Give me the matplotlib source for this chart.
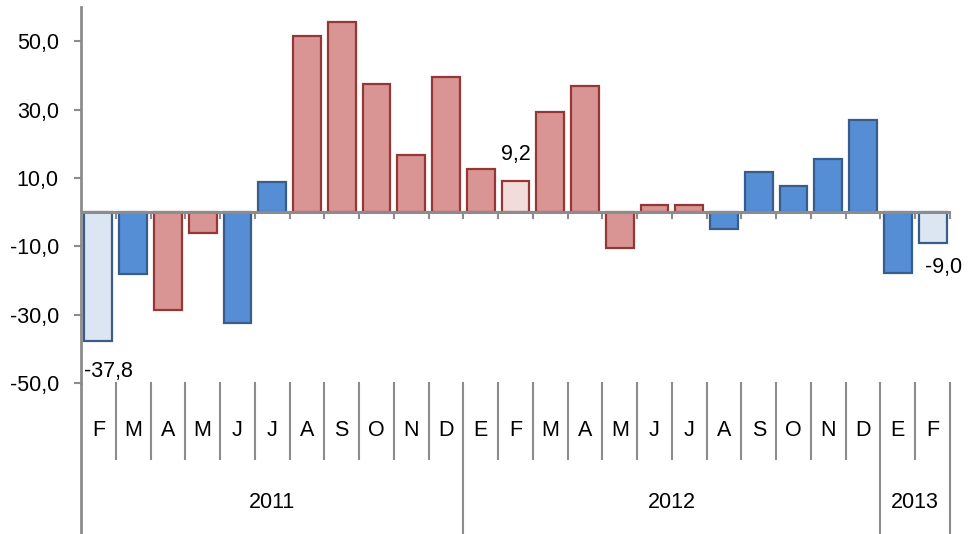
import matplotlib
matplotlib.use("Agg")
import matplotlib.pyplot as plt
from matplotlib.transforms import blended_transform_factory

# ---- data ----
months = ["F", "M", "A", "M", "J", "J", "A", "S", "O", "N", "D",
          "E", "F", "M", "A", "M", "J", "J", "A", "S", "O", "N", "D",
          "E", "F"]
years = ["2011", "2012", "2013"]
year_counts = [11, 12, 2]
values = [-37.8, -18.1, -28.5, -6.2, -32.5, 8.9, 51.4, 55.5, 37.4, 16.7, 39.6,
          12.5, 9.2, 29.2, 36.8, -10.4, 2.0, 2.0, -5.0, 11.7, 7.6, 15.5, 26.9,
          -17.8, -9.0]
groups = ["lb", "b", "r", "r", "b", "b", "r", "r", "r", "r", "r",
          "r", "lr", "r", "r", "r", "r", "r", "b", "b", "b", "b", "b",
          "b", "lb"]
labelled = [0, 12, 24]
yticks = [-50, -30, -10, 10, 30, 50]

# ---- styles ----
fills = {"b": "#558ED5", "lb": "#DCE6F2", "r": "#D99594", "lr": "#F2DCDB"}
edges = {"b": "#385D8A", "lb": "#385D8A", "r": "#953735", "lr": "#953735"}
gray = "#8C8C8C"
font = "Liberation Sans"
plt.rcParams["font.family"] = [font, "DejaVu Sans"]
FS = 15.5

W, H = 968, 534
fig = plt.figure(figsize=(W / 100, H / 100), dpi=100)
L, R, T, B = 81, 950, 7, 383
ax = fig.add_axes([L / W, (H - B) / H, (R - L) / W, (B - T) / H])

n = len(values)
xs = [i + 0.5 for i in range(n)]
ax.bar(xs, values, width=0.8,
       color=[fills[g] for g in groups],
       edgecolor=[edges[g] for g in groups], linewidth=1.6, zorder=2)

ax.set_xlim(0, n)
ax.set_ylim(-50, 60)
ax.set_yticks(yticks)
ax.set_yticklabels([f"{v:.1f}".replace(".", ",") for v in yticks],
                   fontsize=FS)
ax.tick_params(axis="y", direction="out", length=5, width=1.5,
               color=gray, pad=11)
ax.set_xticks([])
for s in ["top", "right", "bottom"]:
    ax.spines[s].set_visible(False)
ax.spines["left"].set_color(gray)
ax.spines["left"].set_linewidth(2)

# zero axis line and ticks
ax.axhline(0, color=gray, lw=2.2, zorder=3)
tr = blended_transform_factory(ax.transData, ax.transAxes)
zero_frac = (0 - (-50)) / 110.0
for k in range(1, n + 1):
    ax.plot([k, k], [zero_frac, zero_frac - 6 / (B - T)], color=gray,
            lw=1.5, transform=tr, clip_on=False, zorder=3)

# left axis extends to bottom of figure
bottom_frac = -(H - B) / (B - T)
ax.plot([0, 0], [0, bottom_frac], color=gray, lw=2, transform=tr,
        clip_on=False)

# month separators and labels
month_sep_bot = -(459 - B) / (B - T)
year_bounds = [0]
for c in year_counts:
    year_bounds.append(year_bounds[-1] + c)
for k in range(1, n + 1):
    if k in year_bounds:
        ax.plot([k, k], [0, bottom_frac], color=gray, lw=1.5, transform=tr,
                clip_on=False)
    else:
        ax.plot([k, k], [0, month_sep_bot], color=gray, lw=1.5,
                transform=tr, clip_on=False)
month_y = -(431 - B) / (B - T)
for x, m in zip(xs, months):
    ax.text(x, month_y, m, transform=tr, ha="center", va="center",
            fontsize=FS)
year_y = -(503 - B) / (B - T)
for yname, a, b in zip(years, year_bounds[:-1], year_bounds[1:]):
    ax.text((a + b) / 2, year_y, yname, transform=tr, ha="center",
            va="center", fontsize=FS)

# data labels
offsets = {0: (0, -22, "left"), 12: (0, 19, "center"), 24: (8, -18, "center")}
for i in labelled:
    dx, dy, ha = offsets[i]
    txt = f"{values[i]:.1f}".replace(".", ",")
    xpos = xs[i] - 0.4 if ha == "left" else xs[i]
    ax.annotate(txt, (xpos, values[i]), xytext=(dx, dy),
                textcoords="offset points", ha=ha, va="center", fontsize=FS)

fig.savefig("out.png", dpi=100)
